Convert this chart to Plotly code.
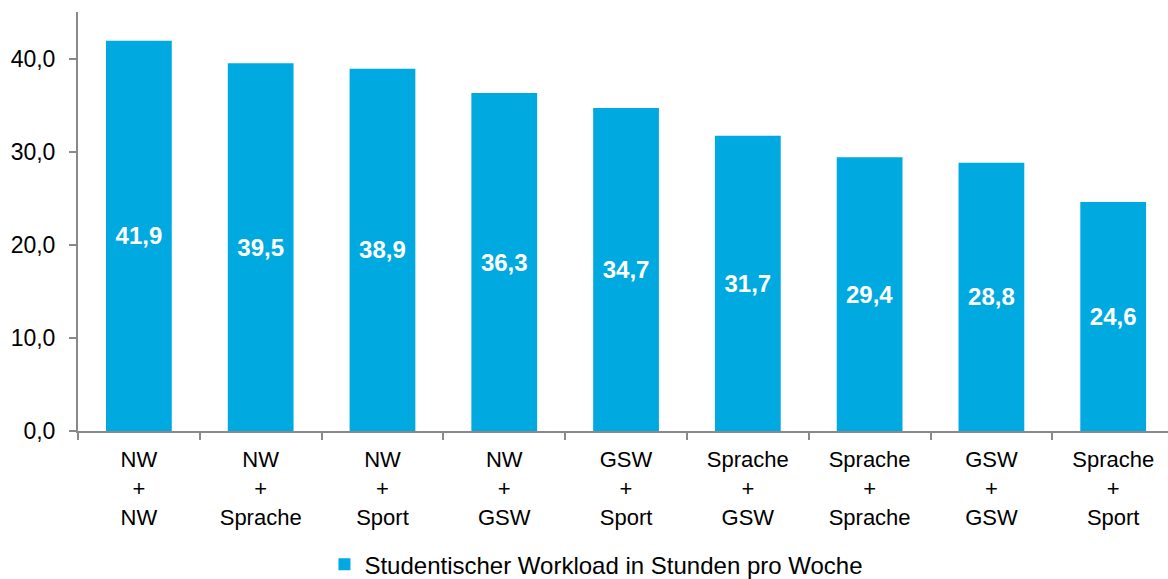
import plotly.graph_objects as go

categories = ["NW<br>+<br>NW", "NW<br>+<br>Sprache", "NW<br>+<br>Sport", "NW<br>+<br>GSW",
              "GSW<br>+<br>Sport", "Sprache<br>+<br>GSW", "Sprache<br>+<br>Sprache",
              "GSW<br>+<br>GSW", "Sprache<br>+<br>Sport"]
values = [41.9, 39.5, 38.9, 36.3, 34.7, 31.7, 29.4, 28.8, 24.6]
series_name = "Studentischer Workload in Stunden pro Woche"
y_ticks = [0, 10, 20, 30, 40]

FONT = "Liberation Sans, Arial, sans-serif"
BLUE = "#00A9E0"

fig = go.Figure()
fig.add_trace(go.Bar(
    x=categories, y=values, name=series_name,
    marker=dict(color=BLUE, line=dict(width=0)),
    texttemplate="%{y:.1f}", textposition="inside", insidetextanchor="middle",
    textangle=0,
    textfont=dict(family=FONT, size=24, color="white", weight="bold"),
    showlegend=True,
))

fig.update_layout(
    width=1168, height=579,
    margin=dict(l=78, r=0, t=12, b=148),
    plot_bgcolor="white", paper_bgcolor="white",
    separators=",.",
    bargap=0.46,
    font=dict(family=FONT, color="black"),
    showlegend=True,
    legend=dict(orientation="h", x=0.2261, xanchor="left",
                yref="container", y=0.025, yanchor="middle",
                font=dict(family=FONT, size=24, color="black"),
                itemwidth=30, itemsizing="constant"),
    xaxis=dict(
        type="category", range=[-0.5, 8.45], automargin=False,
        showline=True, linecolor="#898989", linewidth=2,
        ticks="outside", tickson="boundaries", ticklen=7, tickcolor="#898989", tickwidth=1.5,
        tickfont=dict(family=FONT, size=22, color="black"), ticklabelstandoff=8,
        showgrid=False, zeroline=False,
    ),
    yaxis=dict(
        range=[0, 45], tickvals=y_ticks, tickformat=".1f", automargin=False,
        showline=True, linecolor="#898989", linewidth=2,
        ticks="outside", ticklen=7, tickcolor="#898989", tickwidth=1.5,
        tickfont=dict(family=FONT, size=23, color="black"), ticklabelstandoff=9,
        showgrid=False, zeroline=False,
    ),
)

fig.write_html("out.html", config={"displayModeBar": False},
               post_script="document.body.style.margin='0';document.body.style.overflow='hidden';")
